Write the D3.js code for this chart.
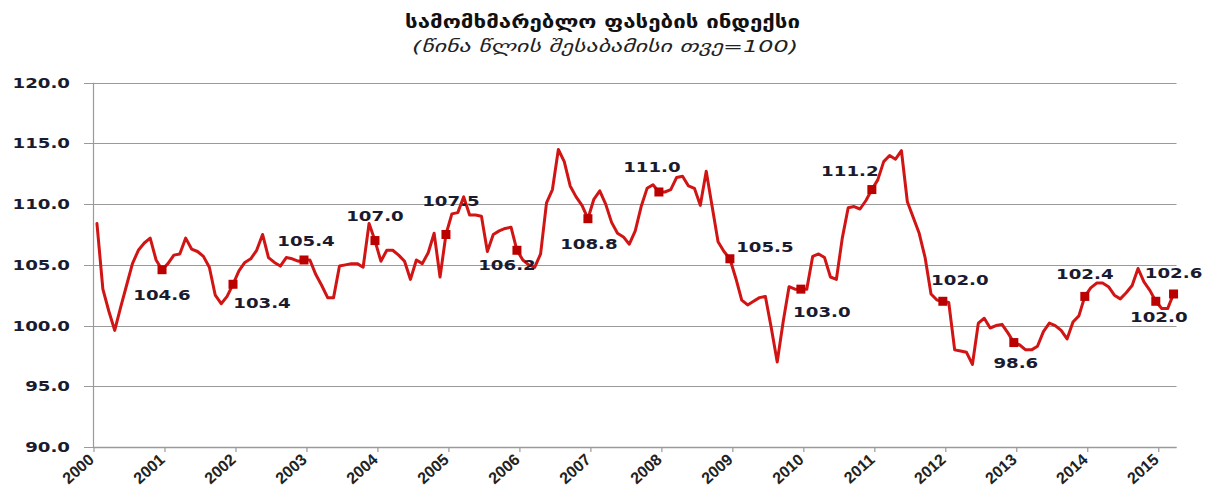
<!DOCTYPE html>
<html>
<head>
<meta charset="utf-8">
<script src="https://cdn.jsdelivr.net/npm/d3@7"></script>
<style>
  html, body { margin: 0; padding: 0; background: #ffffff; }
  svg { display: block; }
</style>
</head>
<body>
<svg id="chart" width="1205" height="491"></svg>
<script>
// Consumer price index, same month of previous year = 100, monthly Jan 2000 – Mar 2015
const title = "სამომხმარებლო ფასების ინდექსი";
const subtitle = "(წინა წლის შესაბამისი თვე=100)";

const years = d3.range(2000, 2016);
const yTicks = [90, 95, 100, 105, 110, 115, 120];

const cpi2000 = [108.4, 103.0, 101.2, 99.6, 101.5, 103.3, 105.1, 106.2, 106.8, 107.2, 105.4, 104.6];
const cpi2001 = [105.1, 105.8, 105.9, 107.2, 106.3, 106.1, 105.7, 104.8, 102.5, 101.8, 102.4, 103.4];
const cpi2002 = [104.5, 105.2, 105.5, 106.2, 107.5, 105.6, 105.2, 104.9, 105.6, 105.5, 105.3, 105.4];
const cpi2003 = [105.4, 104.2, 103.3, 102.3, 102.3, 104.9, 105.0, 105.1, 105.1, 104.8, 108.4, 107.0];
const cpi2004 = [105.3, 106.2, 106.2, 105.8, 105.3, 103.8, 105.4, 105.1, 106.0, 107.6, 104.0, 107.5];
const cpi2005 = [109.2, 109.3, 110.6, 109.1, 109.1, 109.0, 106.1, 107.5, 107.8, 108.0, 108.1, 106.2];
const cpi2006 = [105.4, 105.0, 104.8, 105.9, 110.1, 111.2, 114.5, 113.5, 111.5, 110.6, 109.9, 108.8];
const cpi2007 = [110.4, 111.1, 110.0, 108.5, 107.6, 107.3, 106.7, 107.8, 109.8, 111.3, 111.6, 111.0];
const cpi2008 = [111.0, 111.2, 112.2, 112.3, 111.5, 111.3, 109.9, 112.7, 109.8, 106.9, 106.1, 105.5];
const cpi2009 = [103.9, 102.1, 101.7, 102.0, 102.3, 102.4, 99.8, 97.0, 100.3, 103.2, 103.0, 103.0];
const cpi2010 = [103.0, 105.7, 105.9, 105.6, 104.0, 103.8, 107.2, 109.7, 109.8, 109.6, 110.3, 111.2];
const cpi2011 = [112.0, 113.5, 114.0, 113.7, 114.4, 110.2, 108.9, 107.6, 105.6, 102.6, 102.1, 102.0];
const cpi2012 = [101.9, 98.0, 97.9, 97.8, 96.8, 100.2, 100.6, 99.8, 100.0, 100.1, 99.4, 98.6];
const cpi2013 = [98.4, 98.0, 98.0, 98.3, 99.5, 100.2, 100.0, 99.6, 98.9, 100.3, 100.8, 102.4];
const cpi2014 = [103.1, 103.5, 103.5, 103.2, 102.5, 102.2, 102.7, 103.3, 104.7, 103.6, 102.9, 102.0];
const cpi2015 = [101.4, 101.4, 102.6];

const cpi = [].concat(cpi2000, cpi2001, cpi2002, cpi2003, cpi2004, cpi2005, cpi2006, cpi2007,
                      cpi2008, cpi2009, cpi2010, cpi2011, cpi2012, cpi2013, cpi2014, cpi2015);

// Highlighted months: each December, plus the latest month (March 2015)
const markedMonths = [11, 23, 35, 47, 59, 71, 83, 95, 107, 119, 131, 143, 155, 167, 179, 182];

// ---- layout ----
const svg = d3.select("#chart");
const plot = { left: 94, right: 1176.5, top: 82.7, bottom: 447 };

const x = d3.scaleBand().domain(d3.range(cpi.length)).range([plot.left, plot.right]).padding(0);
const xc = i => x(i) + x.bandwidth() / 2;
const y = d3.scaleLinear().domain([90, 120]).range([plot.bottom, plot.top]);

const numFont = "'DejaVu Sans', Verdana, sans-serif";
const textColor = "#1b1b2f";
const stretch = 1.3;

function wideText(parent, px, py, str, anchor) {
  const g = parent.append("g").attr("transform", `translate(${px},${py})`);
  g.append("text")
    .attr("transform", `scale(${stretch},1)`)
    .attr("text-anchor", anchor)
    .attr("font-family", numFont)
    .attr("font-weight", "bold")
    .attr("font-size", 14)
    .attr("fill", textColor)
    .text(str);
  return g;
}

// ---- gridlines + y axis ----
const grid = svg.append("g");
grid.selectAll("line.grid")
  .data(yTicks)
  .join("line")
  .attr("class", "grid")
  .attr("x1", plot.left - 10)
  .attr("x2", plot.right)
  .attr("y1", d => Math.round(y(d)) + 0.5)
  .attr("y2", d => Math.round(y(d)) + 0.5)
  .attr("stroke", "#9a9a9a")
  .attr("stroke-width", 1);

grid.append("line")
  .attr("x1", plot.left - 0.5).attr("x2", plot.left - 0.5)
  .attr("y1", plot.top).attr("y2", plot.bottom)
  .attr("stroke", "#9a9a9a").attr("stroke-width", 1.2);

const yLab = svg.append("g");
yTicks.forEach(v => wideText(yLab, 70, y(v) + 5, d3.format(".1f")(v), "end"));

// ---- x axis ----
const xAxis = svg.append("g");
xAxis.append("line")
  .attr("x1", plot.left).attr("x2", plot.right)
  .attr("y1", Math.round(plot.bottom) + 0.5).attr("y2", Math.round(plot.bottom) + 0.5)
  .attr("stroke", "#9a9a9a").attr("stroke-width", 1.4);

years.forEach((yr, k) => {
  const px = x(k * 12);
  xAxis.append("line")
    .attr("x1", px).attr("x2", px)
    .attr("y1", plot.bottom).attr("y2", plot.bottom + 5)
    .attr("stroke", "#9a9a9a").attr("stroke-width", 1.2);
  xAxis.append("text")
    .attr("transform", `translate(${px + 1},${plot.bottom + 14}) rotate(-42)`)
    .attr("text-anchor", "end")
    .attr("font-family", "'Liberation Sans', Arial, sans-serif")
    .attr("font-weight", "bold")
    .attr("font-size", 16)
    .attr("fill", "#222")
    .text(yr);
});

// ---- CPI line ----
const line = d3.line()
  .x((d, i) => xc(i))
  .y(d => y(d))
  .curve(d3.curveLinear);

svg.append("path")
  .datum(cpi)
  .attr("d", line)
  .attr("fill", "none")
  .attr("stroke", "#d11414")
  .attr("stroke-width", 3)
  .attr("stroke-linejoin", "round")
  .attr("stroke-linecap", "round");

// ---- year-end markers ----
svg.selectAll("rect.marker")
  .data(markedMonths)
  .join("rect")
  .attr("class", "marker")
  .attr("x", i => xc(i) - 4.5)
  .attr("y", i => y(cpi[i]) - 4.5)
  .attr("width", 9)
  .attr("height", 9)
  .attr("fill", "#bb0000");

// ---- value labels ----
// label offsets from the marker (dx, dy to baseline)
const labelOffsets = [
  [0, 30], [29, 24], [2, -14], [0, -20], [5, -28], [-10, 20], [1, 30], [-7, -20],
  [35, -7], [21, 28], [-22, -14], [17, -16], [2, 25], [0, -17], [3, 21], [0, -16]
];
const labels = svg.append("g");
markedMonths.forEach((i, k) => {
  const [dx, dy] = labelOffsets[k];
  wideText(labels, xc(i) + dx, y(cpi[i]) + dy, d3.format(".1f")(cpi[i]), "middle");
});

// ---- titles ----
svg.append("text")
  .attr("x", 405).attr("y", 28)
  .attr("textLength", 395)
  .attr("lengthAdjust", "spacingAndGlyphs")
  .attr("font-family", "'DejaVu Sans', sans-serif")
  .attr("font-weight", "bold")
  .attr("font-size", 17)
  .attr("fill", "#111")
  .text(title);

svg.append("text")
  .attr("x", 412).attr("y", 52)
  .attr("textLength", 386)
  .attr("lengthAdjust", "spacingAndGlyphs")
  .attr("font-family", "'DejaVu Sans', sans-serif")
  .attr("font-style", "italic")
  .attr("font-size", 16)
  .attr("fill", "#222")
  .text(subtitle);
</script>
</body>
</html>
